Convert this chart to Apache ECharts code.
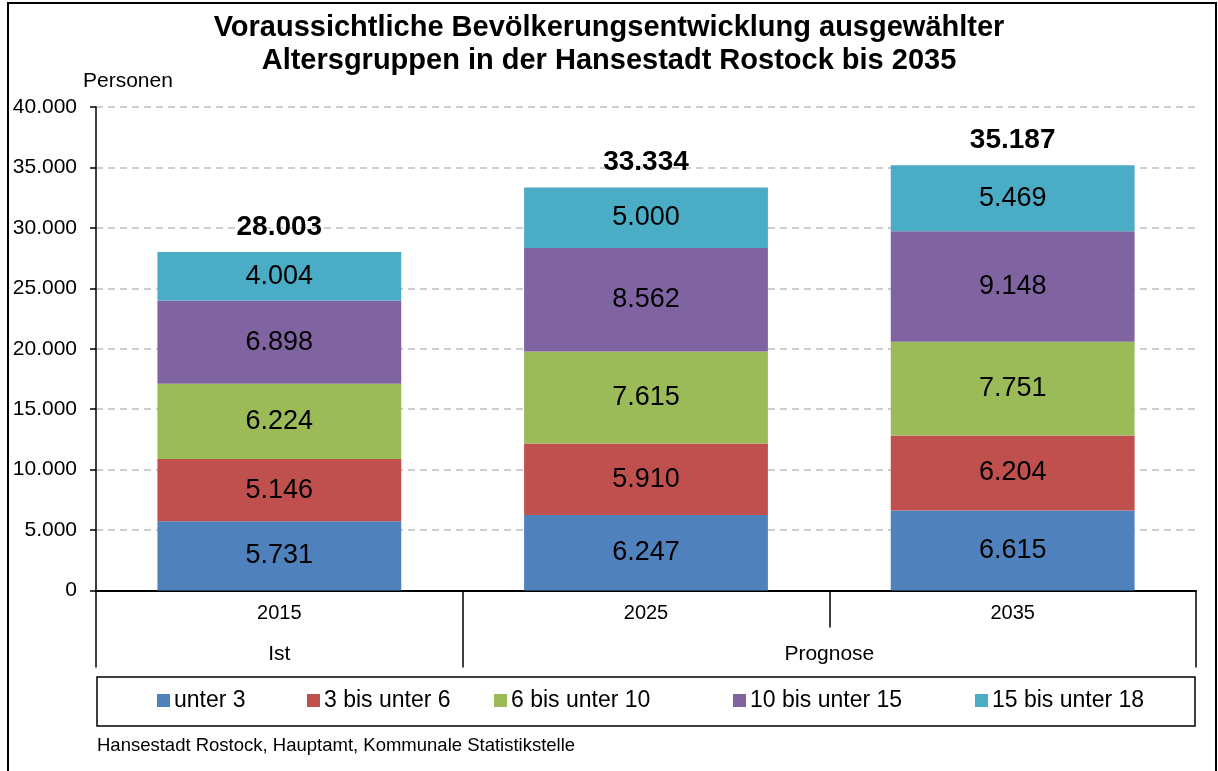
<!DOCTYPE html>
<html>
<head>
<meta charset="utf-8">
<script src="https://cdn.jsdelivr.net/npm/echarts@6/dist/echarts.min.js"></script>
<style>
html,body{margin:0;padding:0;background:#fff;}
#main{width:1218px;height:771px;}
</style>
</head>
<body>
<div id="main"></div>
<script>
//Daten
var years = ['2015', '2025', '2035'];
var groupNames = ['Ist', 'Prognose'];
var groupSpans = [1, 2];
var seriesNames = ['unter 3', '3 bis unter 6', '6 bis unter 10', '10 bis unter 15', '15 bis unter 18'];
var unter3 = [5731, 6247, 6615];
var bis6 = [5146, 5910, 6204];
var bis10 = [6224, 7615, 7751];
var bis15 = [6898, 8562, 9148];
var bis18 = [4004, 5000, 5469];
var totals = [28003, 33334, 35187];
var colors = ['#4F81BD', '#C0504D', '#9BBB59', '#8064A2', '#4BACC6'];

var font = 'Liberation Sans, Arial, sans-serif';

//Tausenderpunkt
function fmt(v) {
	return String(Math.round(v)).replace(/\B(?=(\d{3})+(?!\d))/g, '.');
}

//Gruppengrenzen
var groupTicks = [0], groupCenters = [], acc = 0;
for (var i = 0; i < groupSpans.length; i++) {
	groupCenters.push(acc + groupSpans[i] / 2);
	acc += groupSpans[i];
	groupTicks.push(acc);
}

var dom = document.getElementById('main');
var myChart = echarts.init(dom);

var values = [unter3, bis6, bis10, bis15, bis18];
var series = [];
for (var s = 0; s < values.length; s++) {
	series.push({
		name: seriesNames[s],
		type: 'bar',
		stack: 'gesamt',
		barWidth: '66.5%',
		itemStyle: { color: colors[s] },
		label: {
			show: true,
			position: 'inside',
			fontSize: 27,
			fontFamily: font,
			color: '#000',
			formatter: function (p) { return fmt(p.value); }
		},
		data: values[s]
	});
}
series.push({
	name: 'Summe',
	type: 'scatter',
	symbolSize: 0,
	silent: true,
	itemStyle: { opacity: 1 },
	label: {
		show: true,
		position: 'top',
		distance: 11,
		fontSize: 28,
		fontWeight: 'bold',
		fontFamily: font,
		color: '#000',
		formatter: function (p) { return fmt(p.value); }
	},
	data: totals
});

var legendLeft = [157, 307, 494, 733, 975];
var legends = [];
for (var l = 0; l < seriesNames.length; l++) {
	legends.push({
		data: [seriesNames[l]],
		left: legendLeft[l],
		top: 689,
		icon: 'rect',
		itemWidth: 13,
		itemHeight: 13,
		itemGap: 5,
		padding: 0,
		textStyle: { fontSize: 23, fontFamily: font, color: '#000', padding: [0, 0, 0, -1] }
	});
}

var option = {
	animation: false,
	backgroundColor: '#fff',
	title: [
		{
			text: 'Voraussichtliche Bevölkerungsentwicklung ausgewählter\nAltersgruppen in der Hansestadt Rostock bis 2035',
			left: 'center',
			top: 6,
			textStyle: { fontSize: 29, fontWeight: 'bold', fontFamily: font, color: '#000', lineHeight: 33 }
		},
		{
			text: 'Personen',
			left: 83,
			top: 71,
			padding: 0,
			textStyle: { fontSize: 21, fontWeight: 'normal', fontFamily: font, color: '#000' }
		},
		{
			text: 'Hansestadt Rostock, Hauptamt, Kommunale Statistikstelle',
			left: 97,
			top: 736,
			padding: 0,
			textStyle: { fontSize: 18.5, fontWeight: 'normal', fontFamily: font, color: '#000' }
		}
	],
	legend: legends,
	grid: {
		left: 96,
		right: 22,
		top: 107,
		bottom: 180.5
	},
	xAxis: [
		{
			type: 'category',
			data: years,
			axisLine: { lineStyle: { color: '#000', width: 2 } },
			axisTick: { show: true, interval: 0, length: 37, lineStyle: { color: '#000', width: 1.5 } },
			axisLabel: { fontSize: 20, fontFamily: font, color: '#000', margin: 13 }
		},
		{
			type: 'value',
			min: 0,
			max: groupTicks[groupTicks.length - 1],
			position: 'bottom',
			axisLine: { show: false },
			splitLine: { show: false },
			axisTick: { show: true, customValues: groupTicks, length: 77, lineStyle: { color: '#000', width: 1.5 } },
			axisLabel: {
				customValues: groupCenters,
				margin: 53,
				fontSize: 21,
				fontFamily: font,
				color: '#000',
				formatter: function (v) {
					for (var k = 0; k < groupCenters.length; k++) {
						if (Math.abs(groupCenters[k] - v) < 1e-6) return groupNames[k];
					}
					return '';
				}
			}
		}
	],
	yAxis: {
		type: 'value',
		min: 0,
		max: 40000,
		interval: 5000,
		axisLine: { show: true, lineStyle: { color: '#000', width: 1.5 } },
		axisTick: { show: true, length: 6, lineStyle: { color: '#000', width: 1.5 } },
		axisLabel: {
			fontSize: 21,
			fontFamily: font,
			color: '#000',
			margin: 19,
			formatter: function (v) { return fmt(v); }
		},
		splitLine: { show: true, lineStyle: { color: '#BFBFBF', width: 1.5, type: [7, 5] } }
	},
	graphic: [
		{
			type: 'rect',
			shape: { x: 8, y: 3, width: 1208, height: 800 },
			style: { fill: 'none', stroke: '#000', lineWidth: 2 },
			silent: true
		},
		{
			type: 'rect',
			shape: { x: 97, y: 677, width: 1098, height: 49 },
			style: { fill: 'none', stroke: '#000', lineWidth: 1.5 },
			silent: true
		}
	],
	series: series
};

if (option && typeof option === "object") {
	myChart.setOption(option, true);
}
</script>
</body>
</html>
